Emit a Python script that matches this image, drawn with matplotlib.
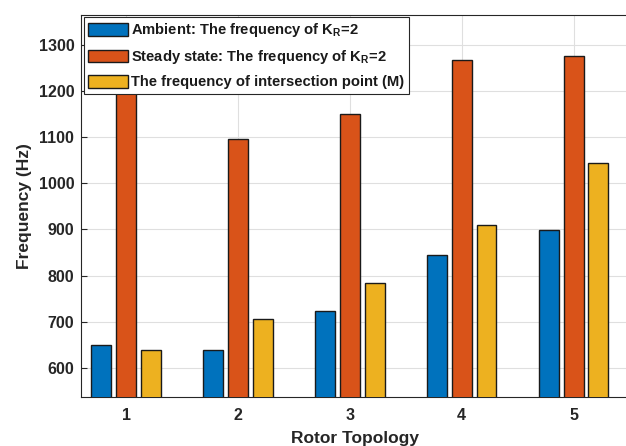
import numpy as np
import matplotlib
matplotlib.use('Agg')
import matplotlib.pyplot as plt

# fonts: MATLAB-ish bold sans
plt.rcParams['font.family'] = ['Liberation Sans', 'DejaVu Sans']
plt.rcParams['font.weight'] = 'bold'
plt.rcParams['mathtext.fontset'] = 'custom'
plt.rcParams['mathtext.rm'] = 'Liberation Sans:bold'
plt.rcParams['mathtext.it'] = 'Liberation Sans:bold'
plt.rcParams['mathtext.bf'] = 'Liberation Sans:bold'
plt.rcParams['mathtext.default'] = 'rm'

# data
topology = [1, 2, 3, 4, 5]
ambient = [649, 638, 724, 845, 899]
steady = [1198, 1097, 1150, 1267, 1277]
intersection = [638, 706, 783, 910, 1044]

labels = ['Ambient: The frequency of K$_{R}$=2',
          'Steady state: The frequency of K$_{R}$=2',
          'The frequency of intersection point (M)']
colors = ['#0072BD', '#D95319', '#EDB120']

fig = plt.figure(figsize=(6.26, 4.46), dpi=100)
# right side of the axes is cut off in the reference
ax = fig.add_axes([0.1299, 0.1105, 0.8757, 0.8565])

x = np.array(topology)
bw = 0.178
offs = [-0.222, 0.0, 0.222]
series = [ambient, steady, intersection]
for vals, off, c, lab in zip(series, offs, colors, labels):
    ax.bar(x + off, vals, width=bw, color=c, edgecolor='#1a1a1a',
           linewidth=1.0, label=lab, zorder=3)

ax.set_xlim(0.6, 5.5)
ax.set_ylim(537, 1366)
ax.set_xticks(topology)
ax.set_yticks(np.arange(600, 1301, 100))
ax.tick_params(direction='in', labelsize=11.5, colors='#262626', length=4)
ax.tick_params(axis='x', pad=8)
ax.tick_params(axis='y', pad=5)
for lbl in ax.get_xticklabels() + ax.get_yticklabels():
    lbl.set_fontweight('bold')
ax.grid(True, color='#dfdfdf', linewidth=0.8, zorder=0)
for s in ax.spines.values():
    s.set_color('#262626')
    s.set_linewidth(0.8)

ax.set_xlabel('Rotor Topology', fontsize=12.5, fontweight='bold', color='#262626', labelpad=6)
ax.set_ylabel('Frequency (Hz)', fontsize=12.5, fontweight='bold', color='#262626', labelpad=5)

leg = ax.legend(loc='upper left', bbox_to_anchor=(0.0, 1.0), borderaxespad=0.15,
                fontsize=10.6, handlelength=2.75, handleheight=0.95,
                handletextpad=0.2, labelspacing=0.6, borderpad=0.3,
                fancybox=False, framealpha=1, edgecolor='#262626')
leg.get_frame().set_linewidth(0.8)
for t in leg.get_texts():
    t.set_color('#1a1a1a')

plt.savefig('out.png', dpi=100)
